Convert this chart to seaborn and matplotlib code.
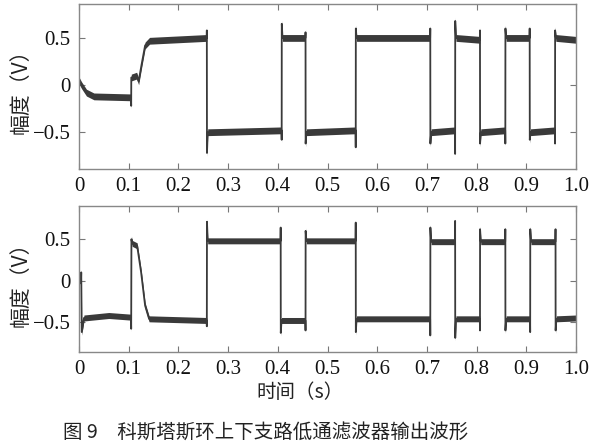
import numpy as np
import pandas as pd
import matplotlib
matplotlib.use("Agg")
import matplotlib.pyplot as plt
import seaborn as sns

# upper branch (I) low-pass output: breakpoints
t_top = [0.000, 0.005, 0.015, 0.030, 0.1045, 0.1050, 0.1052, 0.116, 0.120, 0.126, 0.133, 0.142,
         0.2570, 0.2572, 0.2575, 0.2590,
         0.4075, 0.4078, 0.4080, 0.4095,
         0.4555, 0.4558, 0.4560, 0.4575,
         0.5565, 0.5568, 0.5570, 0.5585,
         0.7065, 0.7068, 0.7070, 0.7085,
         0.7565, 0.7568, 0.7570, 0.7585,
         0.8065, 0.8068, 0.8070, 0.8085,
         0.8575, 0.8578, 0.8580, 0.8595,
         0.9065, 0.9068, 0.9070, 0.9085,
         0.9575, 0.9578, 0.9580, 0.9595, 1.000]
v_top = [0.05, 0.00, -0.08, -0.12, -0.13, -0.22, 0.08, 0.10, 0.04, 0.22, 0.42, 0.47,
         0.50, 0.58, -0.72, -0.50,
         -0.48, -0.58, 0.65, 0.50,
         0.50, 0.56, -0.62, -0.50,
         -0.48, -0.66, 0.60, 0.50,
         0.50, 0.60, -0.62, -0.50,
         -0.48, -0.73, 0.68, 0.50,
         0.48, 0.58, -0.62, -0.50,
         -0.48, -0.62, 0.60, 0.50,
         0.50, 0.60, -0.58, -0.50,
         -0.48, -0.62, 0.58, 0.50, 0.48]

# lower branch (Q) low-pass output
t_bot = [0.000, 0.004, 0.0045, 0.0055, 0.010, 0.060, 0.1045, 0.1050, 0.1055, 0.107, 0.117, 0.125,
         0.133, 0.141, 0.2570, 0.2572, 0.2575, 0.2590,
         0.4055, 0.4058, 0.4060, 0.4075,
         0.4555, 0.4558, 0.4560, 0.4575,
         0.5565, 0.5568, 0.5570, 0.5585,
         0.7065, 0.7068, 0.7070, 0.7085,
         0.7565, 0.7568, 0.7570, 0.7585,
         0.8065, 0.8068, 0.8070, 0.8085,
         0.8575, 0.8578, 0.8580, 0.8595,
         0.9075, 0.9078, 0.9080, 0.9095,
         0.9585, 0.9588, 0.9590, 0.9605, 1.000]
v_bot = [0.00, 0.00, 0.10, -0.62, -0.45, -0.42, -0.44, -0.58, 0.50, 0.45, 0.42, 0.10,
         -0.30, -0.46, -0.48, -0.55, 0.71, 0.48,
         0.48, 0.64, -0.63, -0.48,
         -0.48, -0.60, 0.60, 0.48,
         0.48, 0.70, -0.62, -0.46,
         -0.46, -0.66, 0.64, 0.47,
         0.47, 0.72, -0.69, -0.46,
         -0.46, -0.60, 0.62, 0.47,
         0.47, 0.62, -0.60, -0.46,
         -0.46, -0.62, 0.62, 0.47,
         0.47, 0.62, -0.60, -0.46, -0.45]

x_ticks = [0, 0.1, 0.2, 0.3, 0.4, 0.5, 0.6, 0.7, 0.8, 0.9, 1.0]
x_ticklabels = ["0", "0.1", "0.2", "0.3", "0.4", "0.5", "0.6", "0.7", "0.8", "0.9", "1.0"]
y_ticks = [-0.5, 0, 0.5]
y_ticklabels = ["\u22120.5", "0", "0.5"]

sns.set_style("ticks")
plt.rcParams["font.family"] = ["Liberation Serif", "Noto Sans CJK SC", "DejaVu Sans"]
cjk = ["Noto Sans CJK SC", "DejaVu Sans"]

fig = plt.figure(figsize=(6, 4.46), dpi=100)
ax1 = fig.add_axes([79 / 600, 1 - 169 / 446, 497 / 600, 165 / 446])
ax2 = fig.add_axes([79 / 600, 1 - 352 / 446, 497 / 600, 146 / 446])

line_col = "#3a3a3a"
for ax, t, v, ylim in [(ax1, t_top, v_top, (-0.89, 0.86)), (ax2, t_bot, v_bot, (-0.86, 0.90))]:
    df = pd.DataFrame({"t": t, "v": v})
    # noise envelope around the waveform
    ax.fill_between(df["t"], df["v"] - 0.036, df["v"] + 0.036, color=line_col, lw=0)
    sns.lineplot(data=df, x="t", y="v", ax=ax, estimator=None, sort=False,
                 color=line_col, lw=1.3)
    ax.set_xlim(0, 1.0)
    ax.set_ylim(*ylim)
    ax.set_xticks(x_ticks)
    ax.set_xticklabels(x_ticklabels)
    ax.set_yticks(y_ticks)
    ax.set_yticklabels(y_ticklabels)
    ax.tick_params(direction="in", top=True, right=True, length=4, width=0.8,
                   color="#777777", labelsize=15, pad=6, labelcolor="#111111")
    for s in ax.spines.values():
        s.set_color("#888888")
        s.set_linewidth(1.0)
    ax.set_xlabel("")
    ax.set_ylabel("幅度（V）", family=cjk, fontsize=15, color="#222222")
    ax.yaxis.set_label_coords(-0.095, 0.5)

fig.text(300 / 600, 1 - 393 / 446, "时间（s）", family=cjk, fontsize=14,
         ha="center", va="center", color="#222222")
fig.text(63 / 600, 1 - 432 / 446, "图 9　科斯塔斯环上下支路低通滤波器输出波形",
         family=cjk, fontsize=14, ha="left", va="center", color="#222222")

fig.savefig("out.png", dpi=100)
